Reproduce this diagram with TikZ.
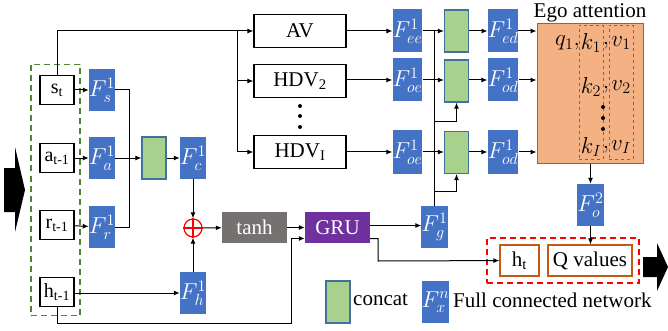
\RequirePackage{fix-cm}
\documentclass[tikz,border=0pt]{standalone}
\usepackage{fontspec}
\setmainfont{Liberation Serif}
\usepackage{tikz}
\usetikzlibrary{arrows.meta,positioning,calc}
\definecolor{fcblue}{RGB}{68,114,196}
\definecolor{catgreen}{RGB}{169,209,142}
\definecolor{catedge}{RGB}{65,113,156}
\definecolor{egofill}{RGB}{244,177,131}
\definecolor{tanhgray}{RGB}{118,113,113}
\definecolor{grupurple}{RGB}{112,48,160}
\definecolor{outedge}{RGB}{197,90,17}
\definecolor{obsgreen}{RGB}{84,130,53}
\tikzset{
  inbox/.style ={rectangle, draw=black, line width=1.2pt, fill=white, minimum width=34pt,
                 minimum height=29pt, inner sep=0pt, font=\fontsize{20}{22}\selectfont},
  fc/.style    ={rectangle, fill=fcblue, text=white, minimum width=26pt, minimum height=42pt,
                 inner sep=0pt, font=\fontsize{23}{25}\selectfont},
  cat/.style   ={rectangle, draw=catedge, fill=catgreen, line width=1.2pt,
                 minimum width=24pt, minimum height=42pt},
  veh/.style   ={rectangle, draw=black, line width=1.2pt, minimum width=92pt,
                 minimum height=33pt, font=\fontsize{21}{24}\selectfont},
  act/.style   ={rectangle, text=white, minimum width=65pt, minimum height=31pt,
                 font=\fontsize{21}{24}\selectfont},
  outb/.style  ={rectangle, draw=outedge, line width=1.2pt, minimum height=31pt,
                 inner sep=0pt, font=\fontsize{21}{24}\selectfont},
  ar/.style    ={-{Latex[length=6pt,width=5pt]}, line width=1pt},
  ln/.style    ={line width=1pt},
  lbl/.style   ={font=\fontsize{21}{24}\selectfont, inner sep=0pt},
  qkv/.style   ={font=\fontsize{23}{25}\selectfont, inner sep=0pt},
  col/.style   ={rectangle, draw=obsgreen, dashed, line width=0.8pt,
                 minimum width=24pt, minimum height=134pt}
}

\begin{document}
\begin{tikzpicture}[x=1pt, y=-1pt]
\useasboundingbox (0,0) rectangle (668,331);

% observation inputs
\node[rectangle, draw=obsgreen, line width=1.6pt, dash pattern=on 6pt off 4pt,
  minimum width=49pt, minimum height=251pt] (obs) at (55.5,190) {};
\node[inbox] (st)  at (57,90)  {s\textsubscript{t}};
\node[inbox] (at)  at (57,158) {a\textsubscript{t-1}};
\node[inbox] (rt)  at (57,225) {r\textsubscript{t-1}};
\node[inbox] (ht1) at (57,292) {h\textsubscript{t-1}};
\fill (4,168) -- (15,168) -- (15,147) -- (25,190) -- (15,232) -- (15,212) -- (4,212) -- cycle;

\node[fc] (Fs) at (102,90)  {$F_{s}^{1}$};
\node[fc] (Fa) at (102,158) {$F_{a}^{1}$};
\node[fc] (Fr) at (102,227) {$F_{r}^{1}$};
\draw[ar] (st) -- (Fs);
\draw[ar] (at) -- (Fa);
\draw[ar] (rt) -- (Fr);

\node[cat] (cat1) at (154,158) {};
\coordinate (j1) at (129,158);
\draw[ln] (Fs.east) -| (j1);
\draw[ln] (Fr.east) -| (j1);
\draw[ar] (Fa) -- (cat1);

\node[fc] (Fc) at (193,158) {$F_{c}^{1}$};
\node[fc] (Fh) at (193,293) {$F_{h}^{1}$};
\draw[ar] (cat1) -- (Fc);
\draw[ar] (ht1.east |- Fh) -- (Fh);

\node[circle, draw=red, line width=1.2pt, minimum size=18pt, inner sep=0pt] (plus) at (193,228) {};
\draw[red, line width=1.2pt] (plus.north) -- (plus.south) (plus.west) -- (plus.east);
\draw[ar] (Fc) -- (plus);
\draw[ar] (Fh) -- (plus);

\node[act, fill=tanhgray]  (tanh) at (254.5,227.5) {tanh};
\node[act, fill=grupurple] (gru)  at (337.5,227.5) {GRU};
\draw[ar] (plus) -- (tanh);
\draw[ar] (tanh) -- (gru);
\coordinate (low) at (291,323);
\draw[ar] (ht1.south) |- (low) |- ([yshift=-11pt]gru.west);

% vehicles
\node[veh] (av)   at (300,31)  {AV};
\node[veh] (hdv2) at (300,81)  {HDV\textsubscript{2}};
\node[veh] (hdvI) at (300,152) {HDV\textsubscript{I}};
\foreach \y in {106,116,127} \fill (300,\y) circle (2pt);
\coordinate (bus) at (237,31);
\draw[ar] (st.north) |- (av);
\draw[ar] (bus) |- (hdv2);
\draw[ar] (bus) |- (hdvI);

\node[fc, minimum height=43pt] (Fee)  at (407.5,31)  {$F_{ee}^{1}$};
\node[fc, minimum height=43pt] (Foe2) at (407.5,80)  {$F_{oe}^{1}$};
\node[fc, minimum height=43pt] (FoeI) at (407.5,152) {$F_{oe}^{1}$};
\draw[ar] (av) -- (Fee);
\draw[ar] (hdv2.east |- Foe2) -- (Foe2);
\draw[ar] (hdvI) -- (FoeI);

\node[cat] (cata) at (456.5,31)  {};
\node[cat] (catb) at (456.5,81)  {};
\node[cat] (catc) at (456.5,152.5) {};
\draw[ar] (Fee) -- (cata);
\draw[ar] (Foe2) -- (Foe2 -| catb.west);
\draw[ar] (FoeI) -- (FoeI -| catc.west);

\node[fc] (Fg) at (434.5,227) {$F_{g}^{1}$};
\draw[ar] ([yshift=2pt]gru.east) -- ([yshift=2pt]gru.east -| Fg.west);
\draw[ln] (Fg.north) -- (Fg.north |- Fee);
\coordinate (yb) at (0,122);
\coordinate (yc) at (0,191);
\draw[ar] (Fg.north |- yb) -| (catb.south);
\draw[ar] (Fg.north |- yc) -| (catc.south);

\node[fc, minimum width=30pt, minimum height=43pt] (Fed)  at (503,31)  {$F_{ed}^{1}$};
\node[fc, minimum width=30pt, minimum height=43pt] (Fod2) at (503,80)  {$F_{od}^{1}$};
\node[fc, minimum width=30pt, minimum height=43pt] (FodI) at (503,152) {$F_{od}^{1}$};
\draw[ar] (cata) -- (Fed);
\draw[ar] (catb.east |- Fod2) -- (Fod2);
\draw[ar] (catc.east |- FodI) -- (FodI);

% ego attention
\node[rectangle, draw=fcblue, fill=egofill, line width=1pt, minimum width=106pt,
  minimum height=139pt] (ego) at (590,93.5) {};
\node[lbl, anchor=south] (egot) at ([yshift=1pt]ego.north) {Ego attention};
\draw[ar] (Fed) -- (Fed -| ego.west);
\draw[ar] (Fod2) -- (Fod2 -| ego.west);
\draw[ar] (FodI) -- (FodI -| ego.west);
\node[col] (kcol) at (591,92) {};
\node[col] (vcol) at (621,92) {};
\node[qkv, anchor=east] (q1) at (580,43) {$q_1,$};
\node[qkv] (k1) at (591,43)  {$k_1$};
\node[qkv] (c1) at (606,46)  {$,$};
\node[qkv] (v1) at (621,43)  {$v_1$};
\node[qkv] (k2) at (591,87)  {$k_2$};
\node[qkv] (c2) at (606,90)  {$,$};
\node[qkv] (v2) at (621,87)  {$v_2$};
\node[qkv] (kI) at (591,147) {$k_I$};
\node[qkv] (cI) at (606,150) {$,$};
\node[qkv] (vI) at (621,147) {$v_I$};
\foreach \y in {107,118,129} \fill (603,\y) circle (2pt);

\node[fc] (Fo) at (590.5,205) {$F_{o}^{2}$};
\draw[ar] (ego.south -| Fo) -- (Fo);

% output
\node[rectangle, draw=red, line width=1.6pt, dash pattern=on 6pt off 4pt,
  minimum width=152pt, minimum height=45pt] (outbox) at (563,260.5) {};
\node[outb, minimum width=39pt] (ht) at (519.5,260.5) {h\textsubscript{t}};
\node[outb, minimum width=84pt] (qv) at (590,260.5) {Q values};
\draw[ar] (Fo) -- (Fo |- qv.north);
\coordinate (go) at (378,261);
\draw[ar] ([yshift=-11pt]gru.east) -| (go) -- (ht);
\fill (643,257) -- (657,257) -- (657,243) -- (668,267) -- (657,291) -- (657,277) -- (643,277) -- cycle;

% legend
\node[cat] (lcat) at (338,302) {};
\node[lbl, anchor=west] (lcatt) at (353,300) {concat};
\node[fc] (lfc) at (435.5,302) {$F_{x}^{n}$};
\node[lbl, anchor=west] (lfct) at (453,300) {Full connected network};
\end{tikzpicture}
\end{document}
